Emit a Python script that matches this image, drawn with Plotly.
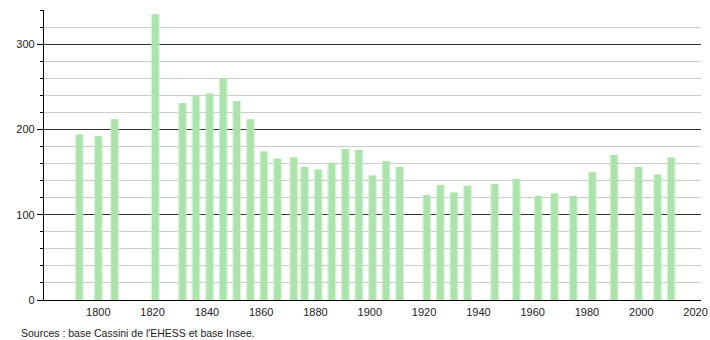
import plotly.graph_objects as go

years = [1793, 1800, 1806, 1821, 1831, 1836, 1841, 1846, 1851, 1856, 1861, 1866,
         1872, 1876, 1881, 1886, 1891, 1896, 1901, 1906, 1911, 1921, 1926, 1931,
         1936, 1946, 1954, 1962, 1968, 1975, 1982, 1990, 1999, 2006, 2011]
population = [194, 192, 212, 335, 231, 239, 242, 260, 233, 212, 174, 166,
              167, 156, 153, 161, 177, 176, 146, 163, 156, 123, 135, 126,
              134, 136, 142, 122, 125, 122, 150, 170, 156, 147, 167]
x_ticks = [1800, 1820, 1840, 1860, 1880, 1900, 1920, 1940, 1960, 1980, 2000, 2020]
source_text = "Sources : base Cassini de l'EHESS et base Insee."

fig = go.Figure()
fig.add_trace(go.Bar(x=years, y=population, width=3.4,
                     marker=dict(color="rgba(190,235,190,0.55)", line=dict(width=0)),
                     hoverinfo="skip"))
fig.add_trace(go.Bar(x=years, y=population, width=2.4,
                     marker=dict(color="rgb(172,226,172)", line=dict(width=0))))

fig.update_layout(
    width=710, height=340,
    margin=dict(l=44, r=9, t=10, b=40),
    paper_bgcolor="white", plot_bgcolor="white",
    barmode="overlay", showlegend=False,
    font=dict(family="Liberation Sans, Arial, sans-serif", size=11, color="#222"),
    xaxis=dict(range=[1780, 2022], tickvals=x_ticks, showgrid=False,
               showline=True, linecolor="black", linewidth=1.2,
               ticks="", zeroline=False, ticklabelstandoff=2, automargin=False),
    yaxis=dict(range=[0, 340], tick0=0, dtick=100, showgrid=True,
               gridcolor="#333", gridwidth=1,
               showline=True, linecolor="black", linewidth=1.2,
               ticks="outside", ticklen=6, tickcolor="black",
               zeroline=False, automargin=False,
               minor=dict(dtick=20, showgrid=True, gridcolor="#cccccc", gridwidth=1,
                          ticks="outside", ticklen=3, tickcolor="black")),
    annotations=[dict(text=source_text, x=-0.038, y=-0.085,
                      xref="paper", yref="paper",
                      xanchor="left", yanchor="top", showarrow=False,
                      font=dict(size=10.5, color="#222"))],
)
fig.write_html("out.html")
